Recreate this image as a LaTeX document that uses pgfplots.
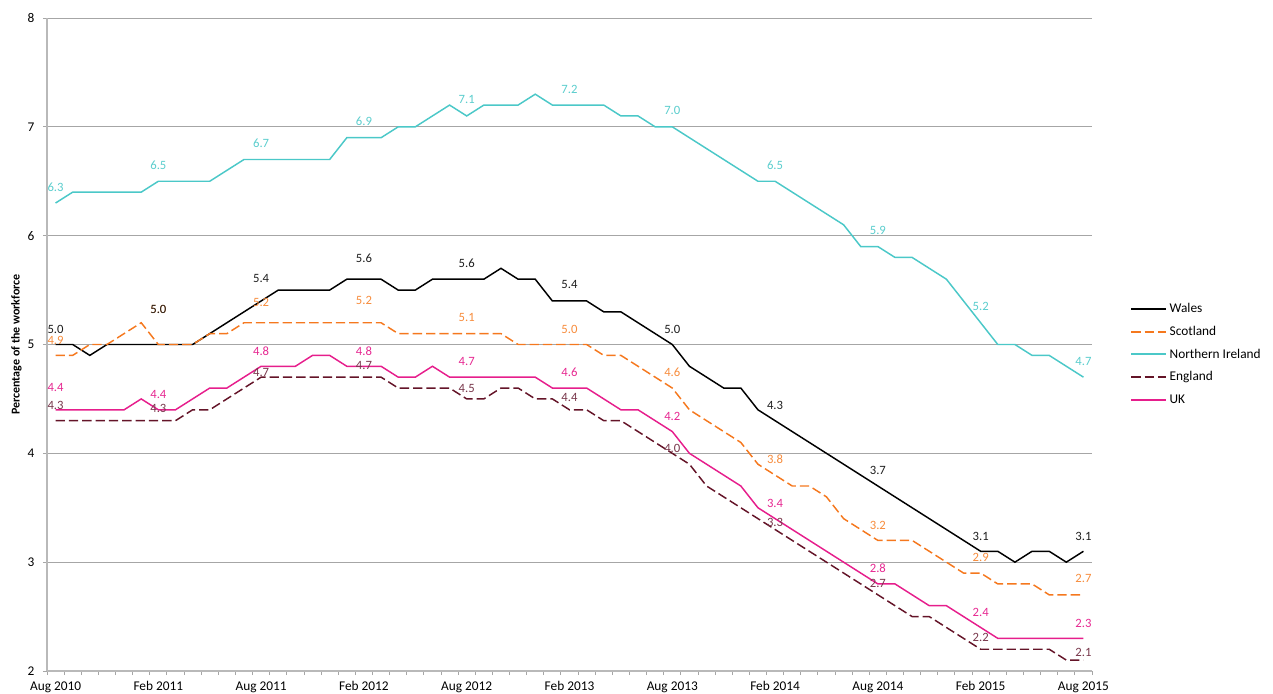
\documentclass[border=0pt]{standalone}
\usepackage{fontspec}
\setmainfont{Carlito}
\usepackage{pgfplots}
\pgfplotsset{compat=1.18}
\usepackage{pgfplotstable}

\definecolor{wales}{RGB}{0,0,0}
\definecolor{waleslab}{RGB}{30,30,30}
\definecolor{scot}{RGB}{245,120,30}
\definecolor{scotlab}{RGB}{247,140,60}
\definecolor{ni}{RGB}{75,200,200}
\definecolor{nilab}{RGB}{90,205,205}
\definecolor{eng}{RGB}{100,20,40}
\definecolor{englab}{RGB}{120,55,75}
\definecolor{uk}{RGB}{230,30,140}
\definecolor{uklab}{RGB}{230,40,145}
\definecolor{gridgray}{RGB}{166,166,166}
\definecolor{axgray}{RGB}{185,185,185}

\pgfplotstableread{
i W S N E U
0 5.0 4.9 6.3 4.3 4.4
1 5.0 4.9 6.4 4.3 4.4
2 4.9 5.0 6.4 4.3 4.4
3 5.0 5.0 6.4 4.3 4.4
4 5.0 5.1 6.4 4.3 4.4
5 5.0 5.2 6.4 4.3 4.5
6 5.0 5.0 6.5 4.3 4.4
7 5.0 5.0 6.5 4.3 4.4
8 5.0 5.0 6.5 4.4 4.5
9 5.1 5.1 6.5 4.4 4.6
10 5.2 5.1 6.6 4.5 4.6
11 5.3 5.2 6.7 4.6 4.7
12 5.4 5.2 6.7 4.7 4.8
13 5.5 5.2 6.7 4.7 4.8
14 5.5 5.2 6.7 4.7 4.8
15 5.5 5.2 6.7 4.7 4.9
16 5.5 5.2 6.7 4.7 4.9
17 5.6 5.2 6.9 4.7 4.8
18 5.6 5.2 6.9 4.7 4.8
19 5.6 5.2 6.9 4.7 4.8
20 5.5 5.1 7.0 4.6 4.7
21 5.5 5.1 7.0 4.6 4.7
22 5.6 5.1 7.1 4.6 4.8
23 5.6 5.1 7.2 4.6 4.7
24 5.6 5.1 7.1 4.5 4.7
25 5.6 5.1 7.2 4.5 4.7
26 5.7 5.1 7.2 4.6 4.7
27 5.6 5.0 7.2 4.6 4.7
28 5.6 5.0 7.3 4.5 4.7
29 5.4 5.0 7.2 4.5 4.6
30 5.4 5.0 7.2 4.4 4.6
31 5.4 5.0 7.2 4.4 4.6
32 5.3 4.9 7.2 4.3 4.5
33 5.3 4.9 7.1 4.3 4.4
34 5.2 4.8 7.1 4.2 4.4
35 5.1 4.7 7.0 4.1 4.3
36 5.0 4.6 7.0 4.0 4.2
37 4.8 4.4 6.9 3.9 4.0
38 4.7 4.3 6.8 3.7 3.9
39 4.6 4.2 6.7 3.6 3.8
40 4.6 4.1 6.6 3.5 3.7
41 4.4 3.9 6.5 3.4 3.5
42 4.3 3.8 6.5 3.3 3.4
43 4.2 3.7 6.4 3.2 3.3
44 4.1 3.7 6.3 3.1 3.2
45 4.0 3.6 6.2 3.0 3.1
46 3.9 3.4 6.1 2.9 3.0
47 3.8 3.3 5.9 2.8 2.9
48 3.7 3.2 5.9 2.7 2.8
49 3.6 3.2 5.8 2.6 2.8
50 3.5 3.2 5.8 2.5 2.7
51 3.4 3.1 5.7 2.5 2.6
52 3.3 3.0 5.6 2.4 2.6
53 3.2 2.9 5.4 2.3 2.5
54 3.1 2.9 5.2 2.2 2.4
55 3.1 2.8 5.0 2.2 2.3
56 3.0 2.8 5.0 2.2 2.3
57 3.1 2.8 4.9 2.2 2.3
58 3.1 2.7 4.9 2.2 2.3
59 3.0 2.7 4.8 2.1 2.3
60 3.1 2.7 4.7 2.1 2.3
}\data

\pgfplotstableread{
x y dy
0 5.0 11.25
6 5.0 26.25
12 5.4 16.5
18 5.6 15.75
24 5.6 12
30 5.4 12
36 5.0 11.25
42 4.3 11.25
48 3.7 12
54 3.1 11.25
60 3.1 11.25
}\labW

\pgfplotstableread{
x y dy
0 4.9 11.25
6 5.0 26.25
12 5.2 15
18 5.2 16.5
24 5.1 12
30 5.0 11.25
36 4.6 12
42 3.8 12
48 3.2 11.25
54 2.9 12
60 2.7 12
}\labS

\pgfplotstableread{
x y dy
0 6.3 12
6 6.5 12
12 6.7 12
18 6.9 12
24 7.1 12
30 7.2 12
36 7.0 12
42 6.5 12
48 5.9 12
54 5.2 12
60 4.7 12
}\labN

\pgfplotstableread{
x y dy
0 4.3 11.25
6 4.3 9
12 4.7 3.4
18 4.7 9
24 4.5 8
30 4.4 9.4
36 4.0 3.5
42 3.3 5.25
48 2.7 8.6
54 2.2 9
60 2.1 6
}\labE

\pgfplotstableread{
x y dy
0 4.4 16.9
6 4.4 11.6
12 4.8 11.25
18 4.8 11.25
24 4.7 12
30 4.6 12
36 4.2 11.25
42 3.4 11.7
48 2.8 12
54 2.4 11.25
60 2.3 11.25
}\labU

\pgfplotsset{
  datalabels/.style={
    draw=none, mark=none, forget plot,
    point meta=\thisrow{y},
    nodes near coords={\pgfmathprintnumber[fixed,fixed zerofill,precision=1]{\pgfplotspointmeta}},
    visualization depends on={\thisrow{dy} \as \labdy},
    every node near coord/.append style={anchor=center, yshift=\labdy pt, inner sep=0pt,
      font=\fontsize{9.5}{11}\selectfont, text=#1},
  }
}

\begin{document}
\begin{tikzpicture}
\path[use as bounding box] (0,0) rectangle (954.75pt,519.75pt);
\begin{axis}[
  at={(35.25pt,16.5pt)}, anchor=south west,
  scale only axis, width=783.75pt, height=489.75pt,
  xmin=-0.5, xmax=60.5, ymin=2, ymax=8,
  clip=false,
  axis x line=bottom, axis y line=left,
  axis line style={axgray, -, line width=1.1pt},
  ymajorgrids, grid style={gridgray, line width=0.7pt},
  ytick={2,3,4,5,6,7,8},
  tick align=outside, major tick length=3pt,
  tick style={gridgray, line width=0.7pt},
  xtick={-0.5,0.5,...,60.5},
  xticklabels={},
  extra x ticks={0,6,12,18,24,30,36,42,48,54,60},
  extra x tick labels={Aug 2010,Feb 2011,Aug 2011,Feb 2012,Aug 2012,Feb 2013,Aug 2013,Feb 2014,Aug 2014,Feb 2015,Aug 2015},
  extra x tick style={major tick length=0pt, grid=none},
  /pgf/number format/assume math mode=true,
  xticklabel style={font=\fontsize{10}{12}\selectfont, yshift=-4.5pt},
  yticklabel style={font=\fontsize{10}{12}\selectfont, xshift=-3pt},
  ylabel={Percentage of the workforce},
  every axis y label/.style={at={(rel axis cs:-0.0292,0.5)}, rotate=90, anchor=center,
     font=\bfseries\fontsize{9}{11}\selectfont},
  legend style={at={(1.0364,0.568)}, anchor=north west, draw=none, fill=none,
     font=\fontsize{10}{12}\selectfont, row sep=4.7pt, inner sep=0pt,
     cells={anchor=west}},
  legend image code/.code={\draw[#1] (0pt,0pt) -- (26pt,0pt);},
  legend image post style={line width=1.5pt},
]
\addplot[wales, line width=1.1pt] table[x=i, y=W] {\data};
\addlegendentry{Wales}
\addplot[scot, line width=1.1pt, dash pattern=on 7pt off 3pt] table[x=i, y=S] {\data};
\addlegendentry{Scotland}
\addplot[ni, line width=1.1pt] table[x=i, y=N] {\data};
\addlegendentry{Northern Ireland}
\addplot[eng, line width=1.1pt, dash pattern=on 7pt off 3pt] table[x=i, y=E] {\data};
\addlegendentry{England}
\addplot[uk, line width=1.1pt] table[x=i, y=U] {\data};
\addlegendentry{UK}

\addplot[datalabels=nilab] table[x=x, y=y] {\labN};
\addplot[datalabels=scotlab] table[x=x, y=y] {\labS};
\addplot[datalabels=waleslab] table[x=x, y=y] {\labW};
\addplot[datalabels=englab] table[x=x, y=y] {\labE};
\addplot[datalabels=uklab] table[x=x, y=y] {\labU};
\end{axis}
\end{tikzpicture}
\end{document}
